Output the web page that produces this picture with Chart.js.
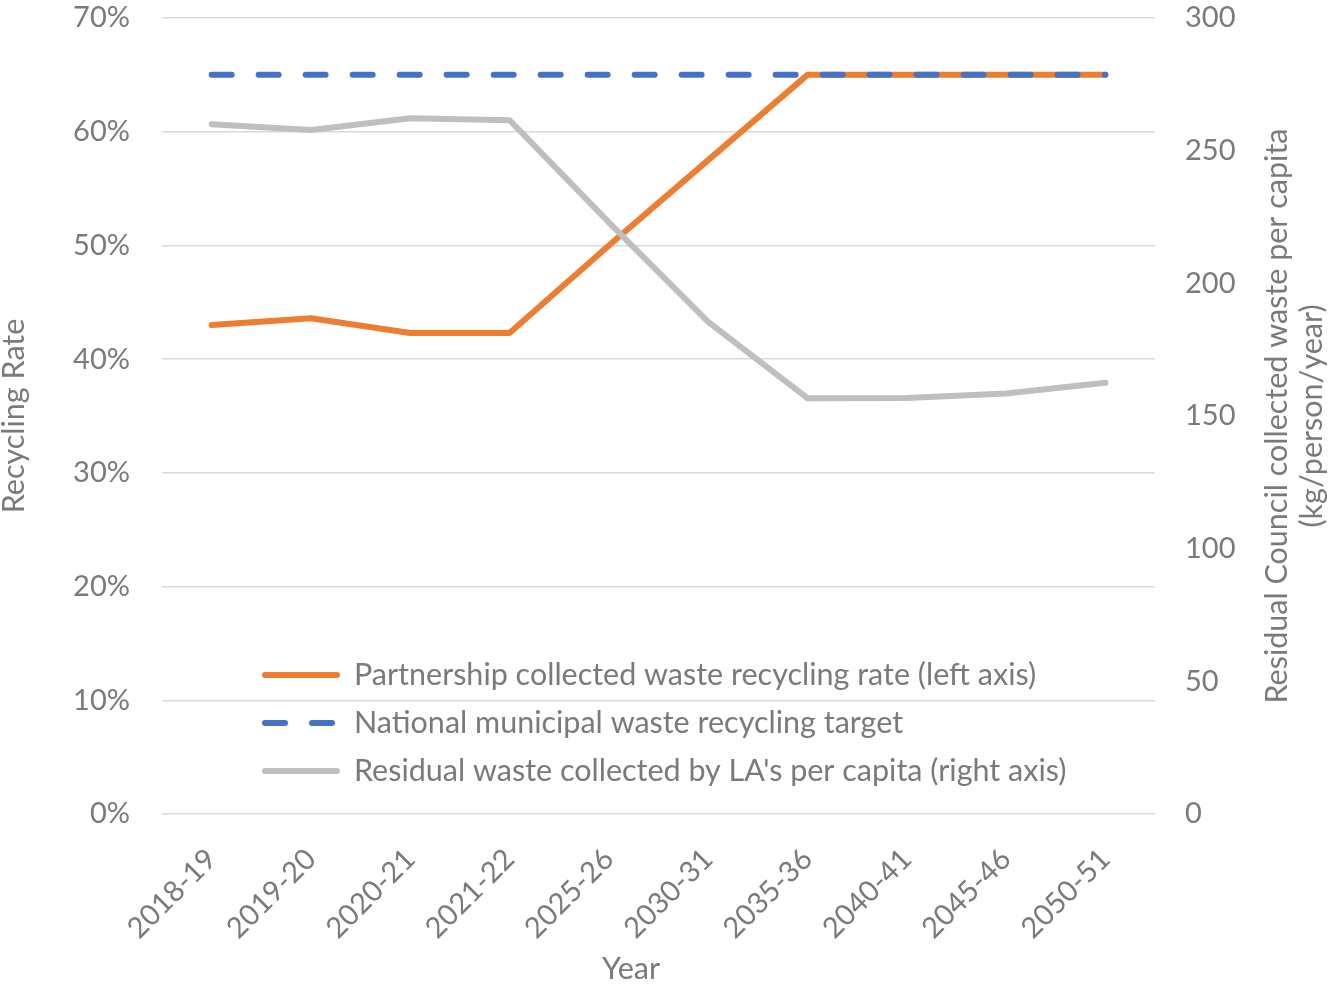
<!DOCTYPE html>
<html>
<head>
<meta charset="utf-8">
<script src="https://cdn.jsdelivr.net/npm/chart.js@4.4.1/dist/chart.umd.min.js"></script>
<style>
  html, body { margin: 0; padding: 0; background: #ffffff; }
  #wrap { width: 1329px; height: 987px; position: relative; }
</style>
</head>
<body>
<div id="wrap"><canvas id="c" width="1329" height="987"></canvas></div>
<script>
// ---- Data ----
const categories = ['2018-19','2019-20','2020-21','2021-22','2025-26','2030-31','2035-36','2040-41','2045-46','2050-51'];
const partnershipRate = [43.0, 43.6, 42.3, 42.3, 50.0, 57.5, 65.0, 65.0, 65.0, 65.0];
const nationalTarget = [65, 65, 65, 65, 65, 65, 65, 65, 65, 65];
const residualPerCapita = [260.0, 257.8, 262.2, 261.5, 223.0, 185.5, 156.7, 156.8, 158.5, 162.5];
const leftTicks = [0, 10, 20, 30, 40, 50, 60, 70];
const rightTicks = [0, 50, 100, 150, 200, 250, 300];
const seriesNames = [
  'Partnership collected waste recycling rate (left axis)',
  'National municipal waste recycling target',
  "Residual waste collected by LA's per capita (right axis)"
];
const axisTitles = {
  left: 'Recycling Rate',
  x: 'Year',
  right: ['Residual Council collected waste per capita', '(kg/person/year)']
};

// ---- Styles ----
const FONT = 'Lato';
const TXT = '#7a7a7a';
const ORANGE = '#ED7D31';
const BLUE = '#4472C4';
const GRAY = '#BFBFBF';
const LW = 6;
const DASH = [20, 27];
const TICK_SIZE = 29;
const TEXT_SIZE = 30.5;

const overlay = {
  id: 'overlay',
  afterDraw(chart) {
    const ctx = chart.ctx;
    ctx.save();
    // legend
    const items = [
      { c: ORANGE, dash: [] },
      { c: BLUE, dash: DASH },
      { c: GRAY, dash: [] }
    ];
    const lx0 = 265, lx1 = 337, tx = 354;
    const y0 = 675, dy = 48;
    ctx.font = TEXT_SIZE + 'px ' + FONT;
    items.forEach((it, i) => {
      const y = y0 + i * dy;
      ctx.beginPath();
      ctx.strokeStyle = it.c;
      ctx.lineWidth = LW;
      ctx.lineCap = 'round';
      ctx.setLineDash(it.dash);
      ctx.moveTo(lx0, y);
      ctx.lineTo(lx1, y);
      ctx.stroke();
      ctx.setLineDash([]);
      ctx.fillStyle = TXT;
      ctx.textAlign = 'left';
      ctx.textBaseline = 'middle';
      ctx.fillText(seriesNames[i], tx, y);
    });
    ctx.fillStyle = TXT;
    ctx.textAlign = 'center';
    ctx.textBaseline = 'middle';
    // x axis title
    ctx.fillText(axisTitles.x, 631, 969);
    // left and right axis titles (read bottom to top)
    const cy = (chart.chartArea.top + chart.chartArea.bottom) / 2;
    [[14, axisTitles.left], [1277, axisTitles.right[0]], [1312, axisTitles.right[1]]].forEach(([x, t]) => {
      ctx.save();
      ctx.translate(x, cy);
      ctx.rotate(-Math.PI / 2);
      ctx.fillText(t, 0, 0);
      ctx.restore();
    });
    ctx.restore();
  }
};

new Chart(document.getElementById('c'), {
  type: 'line',
  data: {
    labels: categories,
    datasets: [
      { label: seriesNames[0], data: partnershipRate, yAxisID: 'y', borderColor: ORANGE, backgroundColor: ORANGE,
        borderWidth: LW, pointRadius: 0, tension: 0, borderCapStyle: 'round', borderJoinStyle: 'round', order: 2 },
      { label: seriesNames[1], data: nationalTarget, yAxisID: 'y', borderColor: BLUE, backgroundColor: BLUE,
        borderWidth: LW, pointRadius: 0, tension: 0, borderDash: DASH, borderCapStyle: 'round', order: 1 },
      { label: seriesNames[2], data: residualPerCapita, yAxisID: 'y2', borderColor: GRAY, backgroundColor: GRAY,
        borderWidth: LW, pointRadius: 0, tension: 0, borderCapStyle: 'round', borderJoinStyle: 'round', order: 0 }
    ]
  },
  options: {
    responsive: false,
    animation: false,
    layout: { padding: { top: 18, left: 0, right: 0, bottom: 0 } },
    plugins: { legend: { display: false }, tooltip: { enabled: false } },
    font: { family: FONT },
    scales: {
      x: {
        offset: true,
        grid: { display: false, drawTicks: false },
        border: { display: false },
        ticks: { color: TXT, font: { family: FONT, size: TICK_SIZE }, minRotation: 45, maxRotation: 45, padding: 28, autoSkip: false },
        title: { display: false },
        afterFit(s) { s.height = 173; s.paddingLeft = 0; s.paddingRight = 0; }
      },
      y: {
        position: 'left',
        min: 0, max: 70,
        afterBuildTicks(s) { s.ticks = leftTicks.map(v => ({ value: v })); },
        grid: { color: '#d9d9d9', lineWidth: 1.5, drawTicks: false },
        border: { display: false },
        ticks: { color: TXT, font: { family: FONT, size: TICK_SIZE }, padding: 32, callback: v => v + '%' },
        title: { display: false },
        afterFit(s) { s.width = 162; s.paddingTop = 0; s.paddingBottom = 0; }
      },
      y2: {
        position: 'right',
        min: 0, max: 300,
        afterBuildTicks(s) { s.ticks = rightTicks.map(v => ({ value: v })); },
        grid: { display: false, drawTicks: false },
        border: { display: false },
        ticks: { color: TXT, font: { family: FONT, size: TICK_SIZE }, padding: 30 },
        afterFit(s) { s.width = 174; s.paddingTop = 0; s.paddingBottom = 0; }
      }
    }
  },
  plugins: [overlay]
});
</script>
</body>
</html>
